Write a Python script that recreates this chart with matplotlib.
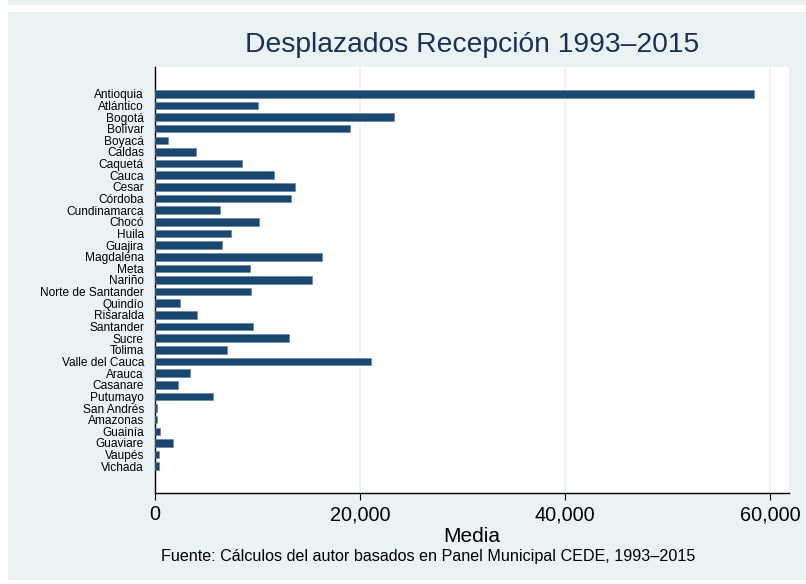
import matplotlib
matplotlib.use("Agg")
import matplotlib.pyplot as plt
import matplotlib.patches as mpatches
import numpy as np

plt.rcParams["font.family"] = ["Liberation Sans", "DejaVu Sans"]

DEPTOS = [
    "Antioquia", "Atlántico", "Bogotá", "Bolívar", "Boyacá", "Caldas",
    "Caquetá", "Cauca", "Cesar", "Córdoba", "Cundinamarca", "Chocó",
    "Huila", "Guajira", "Magdalena", "Meta", "Nariño", "Norte de Santander",
    "Quindío", "Risaralda", "Santander", "Sucre", "Tolima", "Valle del Cauca",
    "Arauca", "Casanare", "Putumayo", "San Andrés", "Amazonas", "Guainía",
    "Guaviare", "Vaupés", "Vichada",
]
MEDIA = [
    58400, 10080, 23300, 19000, 1270, 4000,
    8460, 11580, 13660, 13240, 6340, 10180,
    7450, 6540, 16260, 9270, 15320, 9330,
    2410, 4130, 9590, 13040, 6990, 21040,
    3410, 2210, 5660, 150, 230, 520,
    1760, 360, 420,
]
X_TICKS = [0, 20000, 40000, 60000]

BG = "#eaf2f3"
NAVY = "#1a476f"

fig = plt.figure(figsize=(8.06, 5.84), dpi=100)
fig.patch.set_facecolor("white")

# fondo estilo Stata (franja superior + panel)
W, H = 806, 584
fig.patches.append(mpatches.Rectangle((8 / W, 1 - 5 / H), 1, 5 / H, transform=fig.transFigure,
                                      facecolor=BG, edgecolor="none", zorder=-10))
fig.patches.append(mpatches.Rectangle((8 / W, 4 / H), 1, (580 - 12) / H, transform=fig.transFigure,
                                      facecolor=BG, edgecolor="none", zorder=-10))

ax = fig.add_axes([155 / W, 1 - 493 / H, (789 - 155) / W, (493 - 67) / H])
ax.set_facecolor("white")

y = np.arange(len(DEPTOS))
ax.barh(y, MEDIA, height=0.65, color=NAVY, edgecolor="#5f7f9c", linewidth=0.4, zorder=3)

ax.set_xlim(0, 61850)
ax.set_ylim(len(DEPTOS) - 1 + 2.3, -2.3)
ax.set_yticks(y)
ax.set_yticklabels(DEPTOS, fontsize=8.6)
ax.tick_params(axis="y", length=0, pad=8)
ax.set_xticks(X_TICKS)
ax.set_xticklabels([f"{v:,}" for v in X_TICKS], fontsize=14.3)
ax.tick_params(axis="x", length=5, width=0.8, pad=4)
ax.grid(axis="x", color=BG, linewidth=1.2, zorder=0)

for side in ["top", "right"]:
    ax.spines[side].set_visible(False)
for side in ["left", "bottom"]:
    ax.spines[side].set_linewidth(1.0)

ax.set_xlabel("Media", fontsize=15, labelpad=2)

fig.text(472 / W, 1 - 45 / H, "Desplazados Recepción 1993–2015", ha="center", va="center",
         fontsize=20.3, color="#1c2f55")
fig.text(428 / W, 1 - 557 / H, "Fuente: Cálculos del autor basados en Panel Municipal CEDE, 1993–2015",
         ha="center", va="center", fontsize=11.6)

fig.savefig("out.png", dpi=100, facecolor=fig.get_facecolor())
